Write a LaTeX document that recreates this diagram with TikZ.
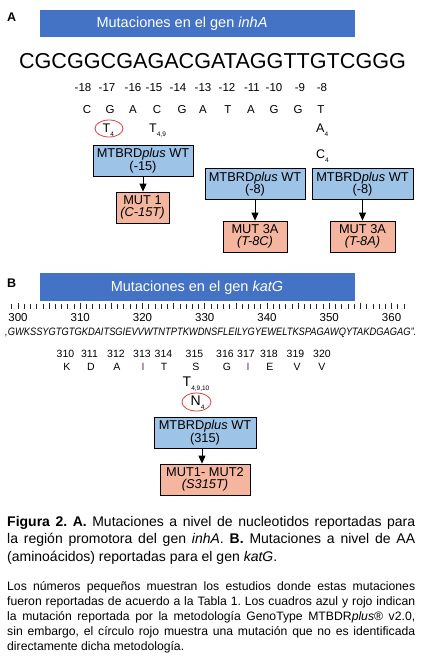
\documentclass[tikz,border=0pt]{standalone}
\usepackage{fontspec}
\setmainfont{Liberation Sans}
\usetikzlibrary{arrows.meta,shapes.geometric}
\definecolor{banner}{HTML}{4472C4}
\definecolor{lblue}{HTML}{9DC3E6}
\definecolor{salmon}{HTML}{F4B69E}
\definecolor{cred}{HTML}{E04040}
\definecolor{aapurple}{HTML}{6A2C70}
\newcommand\lsub[1]{\raisebox{-4pt}{\fontsize{6.5}{6.5}\selectfont #1}}
\frenchspacing
\begin{document}
\begin{tikzpicture}[x=1pt,y=-1pt,
  bannerbox/.style={fill=banner, draw=none, inner sep=0pt, anchor=north west},
  bx/.style={draw=black, line width=0.8pt, inner sep=0pt, align=center, font=\fontsize{12.8}{12.5}\selectfont},
  bluebox/.style={bx, fill=lblue, minimum height=31pt},
  mutbox/.style={bx, fill=salmon, minimum height=31pt},
  lbl/.style={inner sep=0pt, anchor=base},
  arr/.style={-{Triangle[width=7pt,length=8pt]}, line width=0.8pt},
  ring/.style={draw=cred, line width=0.8pt, ellipse, inner sep=0pt},
  tick/.style={line width=0.7pt, draw=black!85}
]
\fill[white] (0,0) rectangle (423,665);
\useasboundingbox (0,0) rectangle (423,665);

% ---------- A ----------
\node[lbl, anchor=base west, font=\bfseries\fontsize{12.5}{13}\selectfont] (labA) at (7,21) {A};
\node[bannerbox, minimum width=315pt, minimum height=27pt] (banA) at (40,10) {};
\node[lbl, text=white, font=\fontsize{14.5}{15}\selectfont] (banAt) at (182,27.5) {Mutaciones en el gen \textit{inhA}};
\node[lbl, font=\fontsize{21.6}{22}\selectfont] (seqA) at (212.5,68.3) {CGCGGCGAGACGATAGGTTGTCGGG};

\foreach \t/\x [count=\i] in {-18/83,-17/107,-16/133,-15/154,-14/178,-13/203,-12/227,-11/252,-10/274,-9/300,-8/322}
  \node[lbl, font=\fontsize{11.5}{12}\selectfont] (pA\i) at (\x,91) {\t};
\foreach \t/\x [count=\i] in {C/87,G/110,A/133,C/157,G/182,A/203,T/228,A/251,G/274,G/298,T/321}
  \node[lbl, font=\fontsize{11.5}{12}\selectfont] (nA\i) at (\x,113.3) {\t};

\node[lbl, anchor=base west, font=\fontsize{12.5}{13}\selectfont] (mT4) at (102.5,132) {T\lsub{4}};
\node[ring, minimum width=28pt, minimum height=17pt] (cT4) at (109,128.5) {};
\node[lbl, anchor=base west, font=\fontsize{12.5}{13}\selectfont] (mT49) at (149,132) {T\lsub{4,9}};
\node[lbl, anchor=base west, font=\fontsize{12.5}{13}\selectfont] (mA4) at (316,132) {A\lsub{4}};
\node[lbl, anchor=base west, font=\fontsize{12.5}{13}\selectfont] (mC4) at (316,158.3) {C\lsub{4}};

\node[bluebox, minimum width=100pt] (b1) at (143,160.5) {MTBRD\textit{plus} WT\\(-15)};
\node[mutbox, minimum width=53pt] (b2) at (142.5,207.5) {MUT 1\\\textit{(C-15T)}};
\node[bluebox, minimum width=100pt] (b3) at (255,184) {MTBRD\textit{plus} WT\\(-8)};
\node[mutbox, minimum width=64pt] (b4) at (255,236.5) {MUT 3A\\\textit{(T-8C)}};
\node[bluebox, minimum width=101pt] (b5) at (362.5,184) {MTBRD\textit{plus} WT\\(-8)};
\node[mutbox, minimum width=65pt] (b6) at (362.5,236.5) {MUT 3A\\\textit{(T-8A)}};
\draw[arr] (b1.south) -- (b1.south |- b2.north);
\draw[arr] (b3.south) -- (b3.south |- b4.north);
\draw[arr] (b5.south) -- (b5.south |- b6.north);

% ---------- B ----------
\node[lbl, anchor=base west, font=\bfseries\fontsize{12.5}{13}\selectfont] (labB) at (7,287) {B};
\node[bannerbox, minimum width=315pt, minimum height=28pt] (banB) at (40,273) {};
\node[lbl, text=white, font=\fontsize{14.5}{15}\selectfont] (banBt) at (197,291.7) {Mutaciones en el gen \textit{katG}};

\foreach \k in {299,...,362}{
  \pgfmathsetmacro\xx{18+6.226*(\k-300)}
  \pgfmathtruncatemacro\md{mod(\k,5)}
  \ifnum\md=0
    \draw[tick] (\xx,302.5) -- (\xx,308.5);
  \else
    \draw[tick] (\xx,304) -- (\xx,308.5);
  \fi
}
\foreach \k in {300,310,...,360}{
  \pgfmathsetmacro\xx{18+6.226*(\k-300)}
  \node[lbl, font=\fontsize{11.5}{12}\selectfont] (r\k) at (\xx,321) {\k};
}
\node[lbl, anchor=base west] (protseq) at (5,335) {\resizebox{411pt}{7.5pt}{\itshape ,GWKSSYGTGTGKDAITSGIEVVWTNTPTKWDNSFLEILYGYEWELTKSPAGAWQYTAKDGAGAG".}};

\foreach \t/\x [count=\i] in {310/65.5,311/89.5,312/116,313/142,314/163.5,315/194.5,316/225,317/246,318/269,319/295.5,320/322}
  \node[lbl, font=\fontsize{10.5}{11}\selectfont] (pB\i) at (\x,357) {\t};
\foreach \t/\x/\c [count=\i] in {K/67/black,D/91/black,A/117/black,I/143/aapurple,T/164/black,S/196/black,G/227/black,I/248/aapurple,E/270/black,V/297/black,V/322/black}
  \node[lbl, text=\c, font=\fontsize{10.5}{11}\selectfont] (aB\i) at (\x,370) {\t};

\node[lbl, anchor=base west, font=\fontsize{14}{14}\selectfont] (mT4910) at (182.5,386.5) {T\lsub{4,9,10}};
\node[lbl, anchor=base west, font=\fontsize{14}{14}\selectfont] (mN4) at (190.5,405) {N\lsub{4}};
\node[ring, minimum width=29pt, minimum height=18pt] (cN4) at (196.5,402) {};

\node[bluebox, minimum width=102pt] (b7) at (205,432.5) {MTBRD\textit{plus} WT\\(315)};
\node[mutbox, minimum width=90pt] (b8) at (205,479.5) {MUT1- MUT2\\\textit{(S315T)}};
\draw[arr] ([xshift=-3pt]b7.south) -- ([xshift=-3pt]b7.south |- b8.north);

% ---------- caption ----------
\node[lbl, anchor=base west, font=\fontsize{14}{17.5}\selectfont] (c1) at (7,526) {\makebox[408pt][s]{\textbf{Figura 2. A.} Mutaciones a nivel de nucleotidos reportadas para}};
\node[lbl, anchor=base west, font=\fontsize{14}{17.5}\selectfont] (c2) at (7,543.5) {\makebox[408pt][s]{la región promotora del gen \textit{inhA}. \textbf{B.} Mutaciones a nivel de AA}};
\node[lbl, anchor=base west, font=\fontsize{14}{17.5}\selectfont] (c3) at (7,561) {(aminoácidos) reportadas para el gen \textit{katG}.};

\node[lbl, anchor=base west, font=\fontsize{12.2}{15}\selectfont] (d1) at (7,590) {\makebox[408pt][s]{Los números pequeños muestran los estudios donde estas mutaciones}};
\node[lbl, anchor=base west, font=\fontsize{12.2}{15}\selectfont] (d2) at (7,605) {\makebox[408pt][s]{fueron reportadas de acuerdo a la Tabla 1. Los cuadros azul y rojo indican}};
\node[lbl, anchor=base west, font=\fontsize{12.2}{15}\selectfont] (d3) at (7,620) {\makebox[408pt][s]{la mutación reportada por la metodología GenoType MTBDR\textit{plus}® v2.0,}};
\node[lbl, anchor=base west, font=\fontsize{12.2}{15}\selectfont] (d4) at (7,635) {\makebox[408pt][s]{sin embargo, el círculo rojo muestra una mutación que no es identificada}};
\node[lbl, anchor=base west, font=\fontsize{12.2}{15}\selectfont] (d5) at (7,650) {directamente dicha metodología.};
\end{tikzpicture}
\end{document}
